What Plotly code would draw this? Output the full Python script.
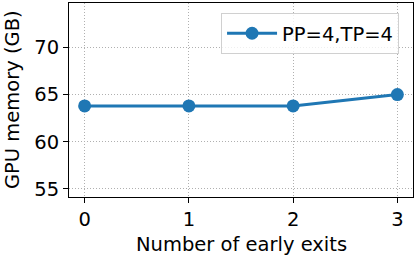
import plotly.graph_objects as go

early_exits = [0, 1, 2, 3]
gpu_memory = [63.8, 63.8, 63.8, 65.0]
series_name = "PP=4,TP=4"
y_ticks = [55, 60, 65, 70]
x_ticks = [0, 1, 2, 3]
x_title = "Number of early exits"
y_title = "GPU memory (GB)"

fig = go.Figure()
fig.add_trace(go.Scatter(
    x=early_exits, y=gpu_memory, mode="lines+markers", name=series_name,
    line=dict(color="#1f77b4", width=3),
    marker=dict(color="#1f77b4", size=13),
))

font = dict(family="DejaVu Sans", size=19.5, color="black")
fig.update_layout(
    width=416, height=259,
    margin=dict(l=69, r=3, t=3, b=62),
    paper_bgcolor="white", plot_bgcolor="white",
    font=font,
    showlegend=True,
    legend=dict(x=0.442, y=0.948, xanchor="left", yanchor="top",
                bgcolor="rgba(255,255,255,0.8)", bordercolor="#d0d0d0", borderwidth=1,
                itemwidth=50, tracegroupgap=0, entrywidth=128, entrywidthmode="pixels",
                font=dict(family="DejaVu Sans", size=19.5, color="black")),
    annotations=[
        dict(text=x_title, xref="paper", yref="paper", x=0.5, y=0, yshift=-47,
             xanchor="center", yanchor="middle", showarrow=False, font=font),
        dict(text=y_title, xref="paper", yref="paper", x=0, y=0.5, xshift=-57,
             xanchor="center", yanchor="middle", textangle=-90, showarrow=False, font=font),
    ],
)
grid = dict(showgrid=True, gridcolor="#b0b0b0", griddash="1px,2px", gridwidth=1, zeroline=False)
fig.update_xaxes(
    range=[-0.15, 3.15], tickvals=x_ticks, ticks="outside", ticklen=5, tickwidth=1,
    tickcolor="black", showline=True, linecolor="black", linewidth=1, mirror=True,
    automargin=False, **grid,
)
fig.update_yaxes(
    range=[54.15, 74.7], tickvals=y_ticks, ticks="outside", ticklen=5, tickwidth=1,
    tickcolor="black", showline=True, linecolor="black", linewidth=1, mirror=True,
    automargin=False, **grid,
)
fig.write_html("out.html", config={"displayModeBar": False},
               post_script="document.body.style.margin='0';")
